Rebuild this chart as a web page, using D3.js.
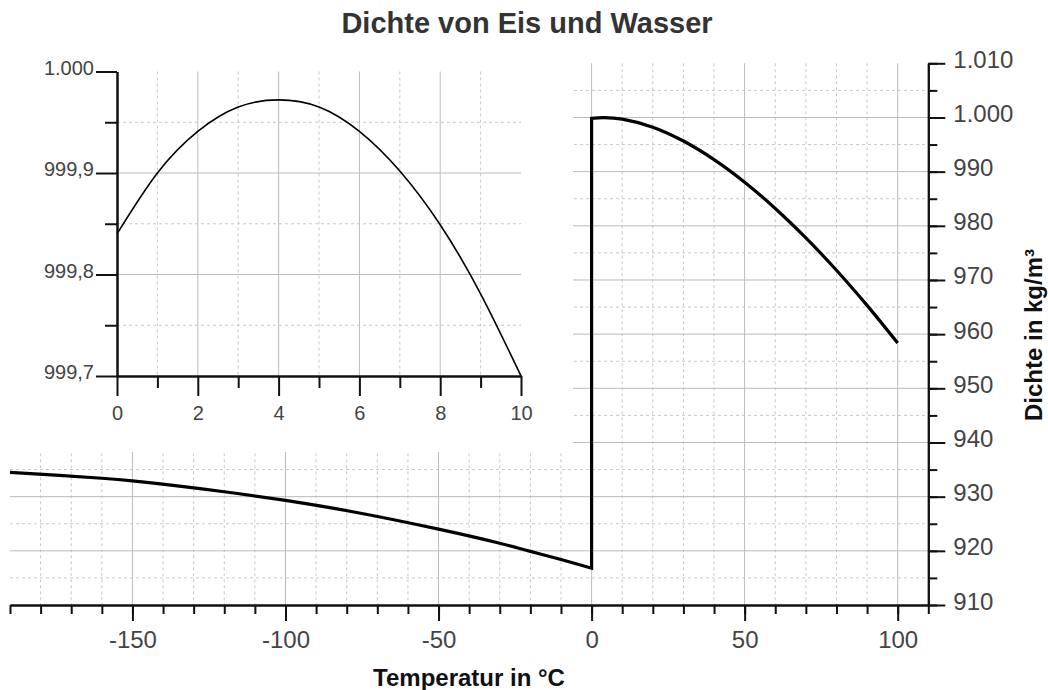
<!DOCTYPE html>
<html>
<head>
<meta charset="utf-8">
<script src="https://cdn.jsdelivr.net/npm/d3@7"></script>
<style>
  html, body { margin: 0; padding: 0; background: #fff; }
  svg { display: block; }
  text { font-family: "Liberation Sans", Arial, sans-serif; }
</style>
</head>
<body>
<svg id="chart" width="1048" height="690"></svg>
<script>
// ---------- data ----------
const titleText = "Dichte von Eis und Wasser";
const xAxisTitle = "Temperatur in °C";
const yAxisTitle = "Dichte in kg/m³";

// ice density (°C, kg/m³)
const iceTemp    = [-190, -160, -150, -120, -100, -75, -50, -30, -20, -10, 0];
const iceDensity = [934.5, 933.4, 932.9, 930.9, 929.3, 926.9, 924.0, 921.4, 919.9, 918.4, 916.8];

// water density (°C, kg/m³)
const waterTemp    = [0, 4, 10, 20, 30, 40, 50, 60, 70, 80, 90, 100];
const waterDensity = [999.84, 999.97, 999.70, 998.21, 995.65, 992.22, 988.05, 983.20, 977.76, 971.80, 965.31, 958.35];

// inset: water 0..10 °C
const insetTemp    = [0, 1, 2, 3, 4, 5, 6, 7, 8, 9, 10];
const insetDensity = [999.840, 999.900, 999.941, 999.965, 999.972, 999.965, 999.941, 999.902, 999.849, 999.781, 999.700];

// main axes ticks
const xMajorTicks = [-150, -100, -50, 0, 50, 100];
const xMajorLabels = ["-150", "-100", "-50", "0", "50", "100"];
const xMinorTicks = d3.range(-190, 111, 10);
const yMajorTicks = [910, 920, 930, 940, 950, 960, 970, 980, 990, 1000, 1010];
const yMajorLabels = ["910", "920", "930", "940", "950", "960", "970", "980", "990", "1.000", "1.010"];
const yMinorTicks = d3.range(910, 1011, 5);

// inset ticks
const ixMajorTicks = [0, 2, 4, 6, 8, 10];
const ixMajorLabels = ["0", "2", "4", "6", "8", "10"];
const ixMinorTicks = [1, 3, 5, 7, 9];
const iyMajorTicks = [999.7, 999.8, 999.9, 1000.0];
const iyMajorLabels = ["999,7", "999,8", "999,9", "1.000"];
const iyMinorTicks = [999.75, 999.85, 999.95];

// ---------- scales ----------
const svg = d3.select("#chart");
const x = d3.scaleLinear().domain([-190, 110]).range([10, 928.3]);
const y = d3.scaleLinear().domain([910, 1010]).range([605, 63.3]);
const ix = d3.scaleLinear().domain([0, 10]).range([117, 521]);
const iy = d3.scaleLinear().domain([999.7, 1000.0]).range([376, 71.5]);

const solidGrid = { stroke: "#bbbbbb", w: 1, dash: null };
const dashGrid  = { stroke: "#c8c8c8", w: 1, dash: "3,3" };

function vgrid(g, vals, sx, y0, y1, st) {
  g.selectAll(null).data(vals).enter().append("line")
    .attr("x1", d => sx(d)).attr("x2", d => sx(d))
    .attr("y1", y0).attr("y2", y1)
    .attr("stroke", st.stroke).attr("stroke-width", st.w)
    .attr("stroke-dasharray", st.dash);
}
function hgrid(g, vals, sy, x0, x1, st) {
  g.selectAll(null).data(vals).enter().append("line")
    .attr("y1", d => sy(d)).attr("y2", d => sy(d))
    .attr("x1", x0).attr("x2", x1)
    .attr("stroke", st.stroke).attr("stroke-width", st.w)
    .attr("stroke-dasharray", st.dash);
}

// ---------- main grid ----------
const mg = svg.append("g");
const xMinorOnly = xMinorTicks.filter(v => !xMajorTicks.includes(v) && v > -190 && v < 110);
const yMinorOnly = yMinorTicks.filter(v => !yMajorTicks.includes(v));
vgrid(mg, xMinorOnly, x, y(1010), y(910), dashGrid);
hgrid(mg, yMinorOnly, y, x(-190), x(110), dashGrid);
vgrid(mg, xMajorTicks, x, y(1010), y(910), solidGrid);
hgrid(mg, yMajorTicks.filter(v => v > 910 && v < 1010), y, x(-190), x(110), solidGrid);

// white panel behind inset
svg.append("rect").attr("x", 0).attr("y", 0).attr("width", 573).attr("height", 452).attr("fill", "#fff");

// ---------- inset ----------
const ig = svg.append("g");
vgrid(ig, ixMinorTicks, ix, iy(1000.0), iy(999.7), dashGrid);
hgrid(ig, iyMinorTicks, iy, ix(0), ix(10), dashGrid);
vgrid(ig, ixMajorTicks.filter(v => v > 0 && v < 10), ix, iy(1000.0), iy(999.7), solidGrid);
hgrid(ig, iyMajorTicks.filter(v => v > 999.7 && v < 1000.0), iy, ix(0), ix(10), solidGrid);

const insetLine = d3.line().x(d => ix(d[0])).y(d => iy(d[1])).curve(d3.curveNatural);
ig.append("path")
  .attr("d", insetLine(insetTemp.map((t, i) => [t, insetDensity[i]])))
  .attr("fill", "none").attr("stroke", "#000").attr("stroke-width", 1.6);

function styleAxis(g, w) {
  g.selectAll(".domain").attr("stroke", "#111").attr("stroke-width", w);
  g.selectAll(".tick line").attr("stroke", "#111").attr("stroke-width", w);
}

// inset x axis
const ixMinorAxis = ig.append("g").attr("transform", `translate(0,${iy(999.7)})`)
  .call(d3.axisBottom(ix).tickValues(ixMinorTicks).tickSize(12).tickSizeOuter(0).tickFormat(""));
styleAxis(ixMinorAxis, 2);
const ixMajorAxis = ig.append("g").attr("transform", `translate(0,${iy(999.7)})`)
  .call(d3.axisBottom(ix).tickValues(ixMajorTicks).tickSize(20).tickSizeOuter(0)
    .tickFormat((d, i) => ixMajorLabels[i]));
styleAxis(ixMajorAxis, 2);
ixMajorAxis.selectAll(".tick text").attr("y", 44).attr("dy", 0)
  .attr("font-size", 20).attr("fill", "#444").attr("font-family", "Liberation Sans, Arial, sans-serif");

// inset y axis
const iyMinorAxis = ig.append("g").attr("transform", `translate(${ix(0)},0)`)
  .call(d3.axisLeft(iy).tickValues(iyMinorTicks).tickSize(12).tickSizeOuter(0).tickFormat(""));
styleAxis(iyMinorAxis, 2);
const iyMajorAxis = ig.append("g").attr("transform", `translate(${ix(0)},0)`)
  .call(d3.axisLeft(iy).tickValues(iyMajorTicks).tickSize(21).tickSizeOuter(0)
    .tickFormat((d, i) => iyMajorLabels[i]));
styleAxis(iyMajorAxis, 2);
iyMajorAxis.selectAll(".tick text").attr("x", -23).attr("dy", 2.5)
  .attr("font-size", 20).attr("fill", "#444").attr("font-family", "Liberation Sans, Arial, sans-serif");

// ---------- main curves ----------
const mainLine = d3.line().x(d => x(d[0])).y(d => y(d[1])).curve(d3.curveCatmullRom.alpha(0.5));
const iceD = mainLine(iceTemp.map((t, i) => [t, iceDensity[i]]));
const waterD = mainLine(waterTemp.map((t, i) => [t, waterDensity[i]]));
svg.append("path")
  .attr("d", iceD + waterD.replace(/^M/, "L"))
  .attr("fill", "none").attr("stroke", "#000").attr("stroke-width", 3.2)
  .attr("stroke-linejoin", "miter");

// ---------- main axes ----------
const xMinorAxis = svg.append("g").attr("transform", `translate(0,${y(910)})`)
  .call(d3.axisBottom(x).tickValues(xMinorTicks).tickSize(9).tickSizeOuter(0).tickFormat(""));
styleAxis(xMinorAxis, 2);
const xMajorAxis = svg.append("g").attr("transform", `translate(0,${y(910)})`)
  .call(d3.axisBottom(x).tickValues(xMajorTicks).tickSize(16).tickSizeOuter(0)
    .tickFormat((d, i) => xMajorLabels[i]));
styleAxis(xMajorAxis, 2);
xMajorAxis.selectAll(".tick text").attr("y", 43).attr("dy", 0)
  .attr("font-size", 24).attr("fill", "#444").attr("font-family", "Liberation Sans, Arial, sans-serif");

const yMinorAxis = svg.append("g").attr("transform", `translate(${x(110)},0)`)
  .call(d3.axisRight(y).tickValues(yMinorTicks).tickSize(9).tickSizeOuter(0).tickFormat(""));
styleAxis(yMinorAxis, 2);
const yMajorAxis = svg.append("g").attr("transform", `translate(${x(110)},0)`)
  .call(d3.axisRight(y).tickValues(yMajorTicks).tickSize(17).tickSizeOuter(0)
    .tickFormat((d, i) => yMajorLabels[i]));
styleAxis(yMajorAxis, 2);
yMajorAxis.selectAll(".tick text").attr("x", 25).attr("dy", 4)
  .attr("font-size", 24).attr("fill", "#444").attr("font-family", "Liberation Sans, Arial, sans-serif");

// ---------- titles ----------
svg.append("text").text(titleText)
  .attr("x", 527).attr("y", 33).attr("text-anchor", "middle")
  .attr("font-size", 29).attr("font-weight", "bold").attr("fill", "#333");
svg.append("text").text(xAxisTitle)
  .attr("x", 469).attr("y", 686).attr("text-anchor", "middle")
  .attr("font-size", 24).attr("font-weight", "bold").attr("fill", "#111");
svg.append("text").text(yAxisTitle)
  .attr("transform", `translate(1042,335) rotate(-90)`).attr("text-anchor", "middle")
  .attr("font-size", 24).attr("font-weight", "bold").attr("fill", "#111");
</script>
</body>
</html>
